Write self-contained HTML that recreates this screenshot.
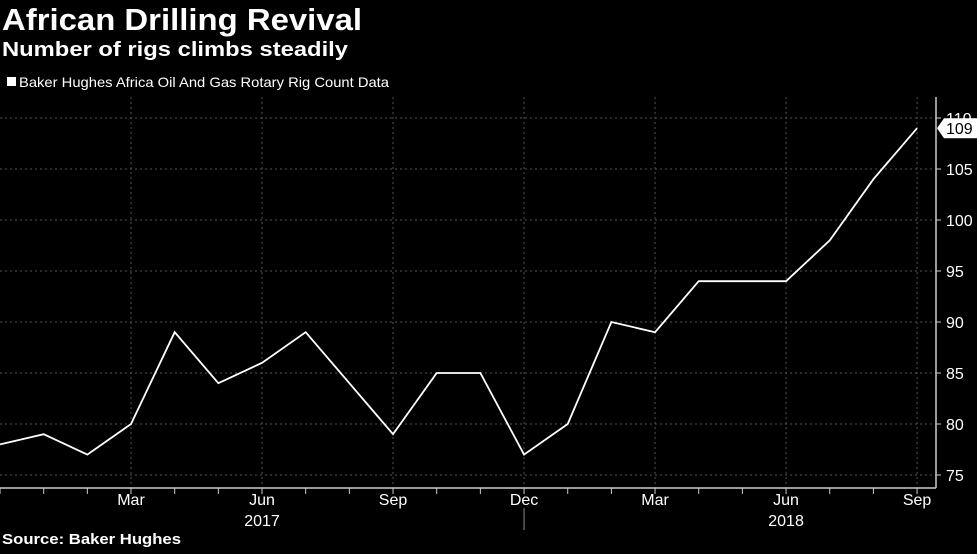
<!DOCTYPE html>
<html><head><meta charset="utf-8"><style>
body{margin:0;background:#000;width:977px;height:549px;overflow:hidden;font-family:"Liberation Sans",sans-serif;color:#fff}
</style></head><body>
<svg width="977" height="549">
<text x="2" y="30" font-size="31" font-weight="bold" fill="#fff" textLength="360" lengthAdjust="spacingAndGlyphs">African Drilling Revival</text>
<text x="2" y="56" font-size="20" font-weight="bold" fill="#fff" textLength="346" lengthAdjust="spacingAndGlyphs">Number of rigs climbs steadily</text>
<rect x="7" y="77" width="9" height="9" fill="#fff"/>
<text x="19" y="87" font-size="14" fill="#fff" textLength="370" lengthAdjust="spacingAndGlyphs">Baker Hughes Africa Oil And Gas Rotary Rig Count Data</text>
<text x="2" y="544" font-size="15" font-weight="bold" fill="#fff" textLength="179" lengthAdjust="spacingAndGlyphs">Source: Baker Hughes</text>
<g id="grid"></g><g id="axes"></g><g id="series"></g>
</svg>
<script>
const months=["Dec","Jan","Feb","Mar","Apr","May","Jun","Jul","Aug","Sep","Oct","Nov","Dec","Jan","Feb","Mar","Apr","May","Jun","Jul","Aug","Sep"];
const rigs=[78,79,77,80,89,84,86,89,84,79,85,85,77,80,90,89,94,94,94,98,104,109];
const yTicks=[75,80,85,90,95,100,105,110];
const years=[{label:"2017",idx:6},{label:"2018",idx:18}];
const NS="http://www.w3.org/2000/svg";
const xs=i=>0+i*43.67;
const ys=v=>424-(v-80)*10.2;
function mk(t,a,p){const e=document.createElementNS(NS,t);for(const k in a)e.setAttribute(k,a[k]);p.appendChild(e);return e;}
const grid=document.getElementById('grid'),axes=document.getElementById('axes'),ser=document.getElementById('series');
yTicks.forEach(v=>{
 const l=mk('line',{x1:0,x2:936,y1:ys(v),y2:ys(v),stroke:'#555','stroke-dasharray':'2,3'},grid);
 
 
 const t=mk('text',{x:946,y:ys(v)+6,'font-size':16,fill:'#fff'},axes);t.textContent=v;
 
 
 mk('line',{x1:936,x2:941,y1:ys(v),y2:ys(v),stroke:'#ccc'},axes);
});
months.forEach((m,i)=>{
 const x=xs(i);
 mk('line',{x1:x,x2:x,y1:488,y2:494,stroke:'#ccc'},axes);
 if(i%3===0&&i>0){
  const g=mk('line',{x1:x,x2:x,y1:97,y2:488,stroke:'#555','stroke-dasharray':'2,3'},grid);
  
  
  const t=mk('text',{x:x,y:505,'font-size':16,fill:'#fff','text-anchor':'middle'},axes);t.textContent=m;
  
  
 }
});
years.forEach(y=>{
 const t=mk('text',{x:xs(y.idx),y:526,'font-size':16,fill:'#fff','text-anchor':'middle'},axes);t.textContent=y.label;
 
 
});
mk('line',{x1:xs(12),x2:xs(12),y1:508,y2:530,stroke:'#888'},axes);
mk('line',{x1:0,x2:936,y1:488,y2:488,stroke:'#ccc','stroke-width':1.5},axes);
mk('line',{x1:936,x2:936,y1:97,y2:488,stroke:'#ccc','stroke-width':1.5},axes);
const pl=mk('polyline',{points:rigs.map((v,i)=>xs(i)+','+ys(v)).join(' '),fill:'none',stroke:'#fff','stroke-width':1.8},ser);


const last=rigs[rigs.length-1],ly=ys(last);
const tag=mk('path',{d:`M937,${ly} L944,${ly-10} L977,${ly-10} L977,${ly+10} L944,${ly+10} Z`,fill:'#fff'},axes);


const tt=mk('text',{x:946,y:ly+6,'font-size':16,fill:'#000'},axes);tt.textContent=last;


</script>
</body></html>
